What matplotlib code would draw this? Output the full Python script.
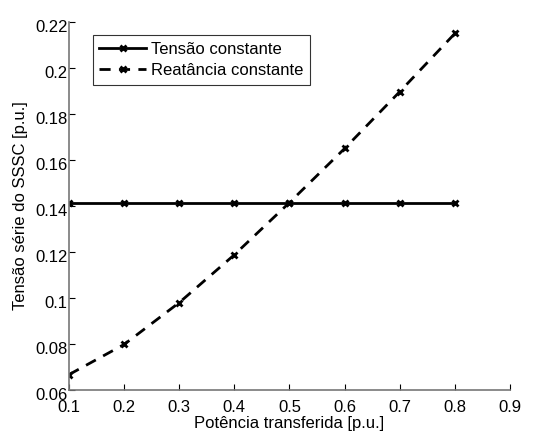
import matplotlib
matplotlib.use("Agg")
import matplotlib.pyplot as plt
from matplotlib.transforms import ScaledTranslation

plt.rcParams["font.family"] = ["Liberation Sans", "DejaVu Sans"]
plt.rcParams["font.size"] = 12

potencia = [0.1, 0.2, 0.3, 0.4, 0.5, 0.6, 0.7, 0.8]
tensao_constante = [0.1415, 0.1415, 0.1415, 0.1415, 0.1415, 0.1415, 0.1415, 0.1415]
reatancia_constante = [0.0667, 0.0798, 0.0980, 0.1188, 0.1415, 0.1650, 0.1897, 0.2150]

fig = plt.figure(figsize=(5.55, 4.32), dpi=100)
ax = fig.add_axes([0.1243, 0.0972, 0.7946, 0.8519])

ax.plot(potencia, tensao_constante, "-", color="black", lw=2,
        marker="x", ms=5, mew=2, label="Tensão constante")
ax.plot(potencia, reatancia_constante, "--", color="black", lw=2,
        marker="x", ms=5, mew=2, dashes=(4, 3), label="Reatância constante")

ax.set_xlim(0.1, 0.9)
ax.set_ylim(0.06, 0.22)
ax.set_xticks([0.1, 0.2, 0.3, 0.4, 0.5, 0.6, 0.7, 0.8, 0.9])
ax.set_xticklabels(["0.1", "0.2", "0.3", "0.4", "0.5", "0.6", "0.7", "0.8", "0.9"])
ax.set_yticks([0.06, 0.08, 0.1, 0.12, 0.14, 0.16, 0.18, 0.2, 0.22])
ax.set_yticklabels(["0.06", "0.08", "0.1", "0.12", "0.14", "0.16", "0.18", "0.2", "0.22"])

for side in ("top", "right"):
    ax.spines[side].set_visible(False)
for side in ("left", "bottom"):
    ax.spines[side].set_color("#777777")
    ax.spines[side].set_linewidth(1.2)
ax.tick_params(direction="in", length=4, color="black")
ax.tick_params(axis="x", pad=7)
ax.tick_params(axis="y", pad=1)

# y tick labels sit a little below their ticks
shift = ScaledTranslation(0, -4 / 100, fig.dpi_scale_trans)
for lbl in ax.get_yticklabels():
    lbl.set_transform(lbl.get_transform() + shift)

ax.set_xlabel("Potência transferida [p.u.]", labelpad=1)
ax.set_ylabel("Tensão série do SSSC [p.u.]", labelpad=5)

leg = ax.legend(loc="upper left", bbox_to_anchor=(0.054, 0.965), frameon=True,
                fancybox=False, edgecolor="black", borderpad=0.4,
                handlelength=2.8, handletextpad=0.3, labelspacing=0.4,
                borderaxespad=0)
leg.get_frame().set_linewidth(0.8)

fig.savefig("out.png", dpi=100)
